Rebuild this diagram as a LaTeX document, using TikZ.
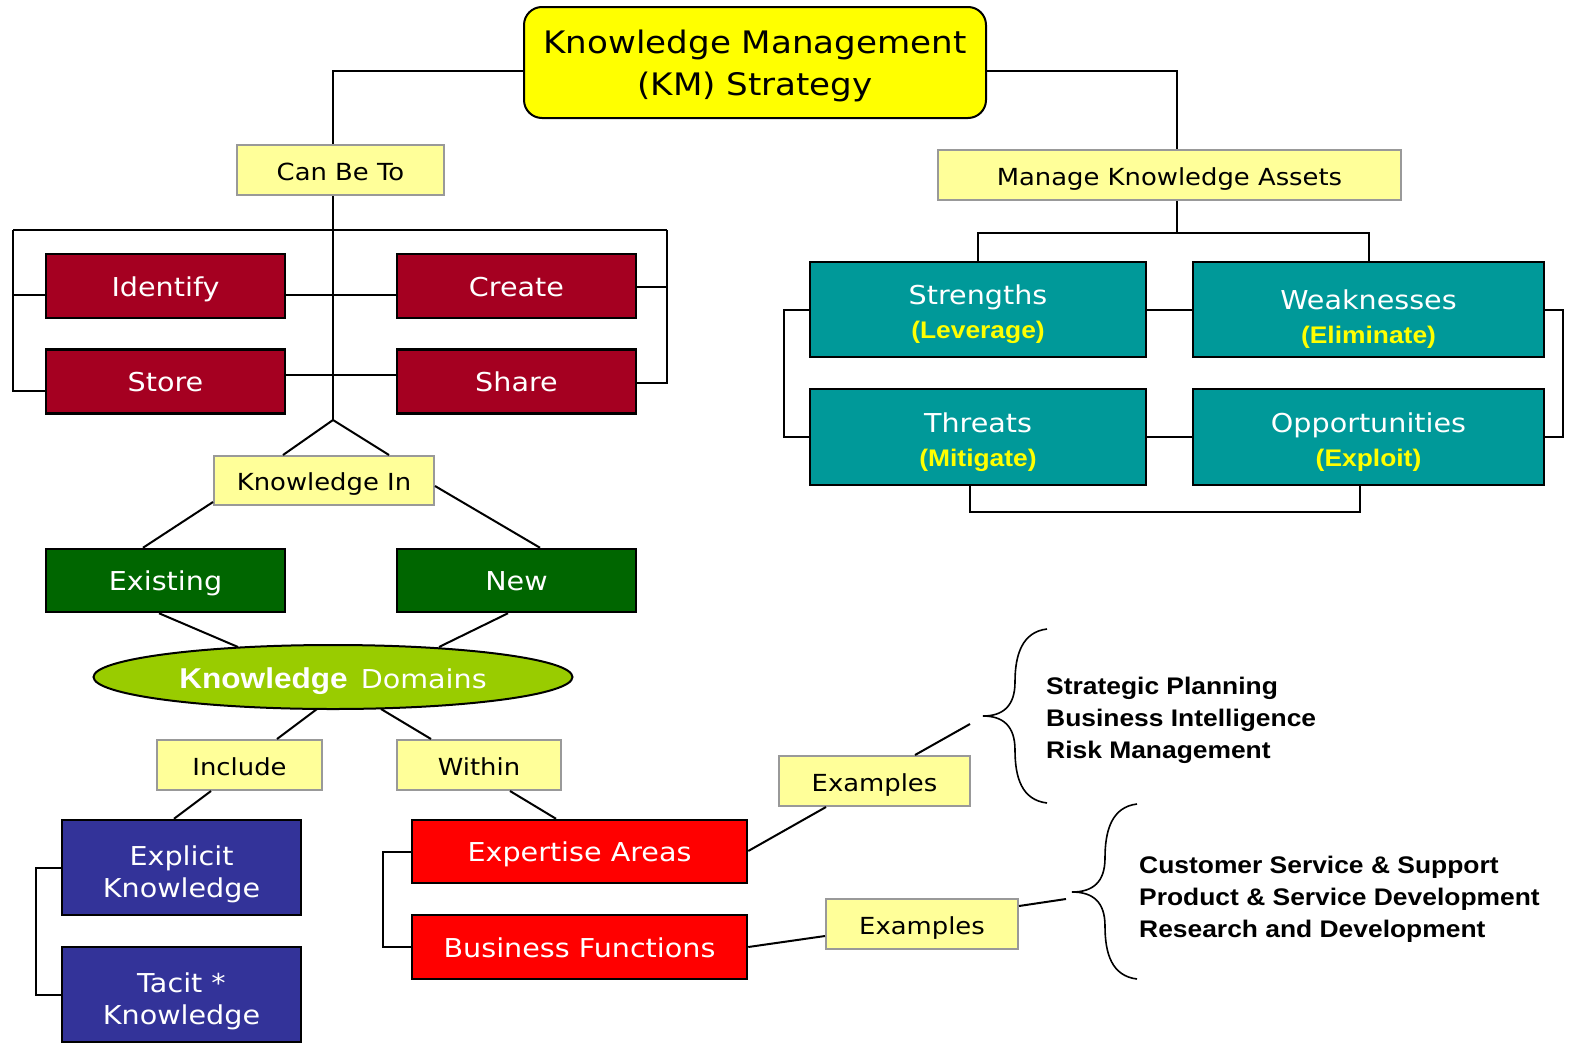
\documentclass[tikz,border=0pt]{standalone}
\usepackage{fontspec}
\setmainfont{DejaVu Sans}[FakeStretch=1.1]
\newfontfamily\arialf{Liberation Sans}[FakeStretch=1.1]
\usetikzlibrary{shapes.geometric}
\definecolor{lbl}{HTML}{FFFF99}
\definecolor{crim}{HTML}{A50021}
\definecolor{tealbox}{HTML}{009999}
\definecolor{dgreen}{HTML}{006600}
\definecolor{lime}{HTML}{99CC00}
\definecolor{navy}{HTML}{333399}
\definecolor{brightred}{HTML}{FF0000}
\definecolor{ttl}{HTML}{FFFF00}
\definecolor{lblborder}{HTML}{999999}
\newcommand{\swotsub}[1]{{\arialf\bfseries\fontsize{24}{34}\selectfont\color{ttl}#1}}
\begin{document}
\begin{tikzpicture}[x=1pt,y=-1pt,
  conn/.style={draw=black, line width=2pt},
  oneline/.style={text height=20pt, text depth=0pt},
  lblbox/.style={draw=lblborder, line width=2pt, fill=lbl, minimum height=50pt, inner sep=0pt, oneline, font=\fontsize{23.5}{28}\selectfont},
  box/.style={draw=black, line width=2.5pt, inner sep=0pt, text=white, align=center, font=\fontsize{26}{32}\selectfont},
  swot/.style={box, fill=tealbox, font=\fontsize{26}{34}\selectfont},
]
\useasboundingbox[fill=white] (0,0) rectangle (1574,1047);

% ---------- nodes ----------
\node[draw=black, line width=2pt, fill=ttl, rounded corners=18pt, minimum width=462pt, minimum height=111pt, inner sep=0pt, align=center, text height=65pt, text depth=0pt, font=\fontsize{31}{42}\selectfont] (title) at (755,62.5) {Knowledge Management\\(KM) Strategy};

\node[lblbox, minimum width=207pt] (canbe) at (340.5,170) {Can Be To};
\node[lblbox, minimum width=463pt] (manage) at (1169.5,175) {Manage Knowledge Assets};

\node[box, oneline, fill=crim, minimum width=239pt, minimum height=64pt] (identify) at (165.5,286) {Identify};
\node[box, oneline, fill=crim, minimum width=239pt, minimum height=64pt] (create) at (516.5,286) {Create};
\node[box, oneline, fill=crim, minimum width=239pt, minimum height=64pt] (store) at (165.5,381.5) {Store};
\node[box, oneline, fill=crim, minimum width=239pt, minimum height=64pt] (share) at (516.5,381.5) {Share};

\node[swot, minimum width=336pt, minimum height=95pt, text height=57pt, text depth=0pt] (strengths) at (978,309.5) {Strengths\\\swotsub{(Leverage)}};
\node[swot, minimum width=351pt, minimum height=95pt, text height=67pt, text depth=0pt] (weak) at (1368.5,309.5) {Weaknesses\\\swotsub{(Eliminate)}};
\node[swot, minimum width=336pt, minimum height=96pt, text height=58pt, text depth=0pt] (threats) at (978,437) {Threats\\\swotsub{(Mitigate)}};
\node[swot, minimum width=351pt, minimum height=96pt, text height=58pt, text depth=0pt] (opp) at (1368.5,437) {Opportunities\\\swotsub{(Exploit)}};

\node[lblbox, minimum width=220pt, minimum height=49pt] (kin) at (324,480.5) {Knowledge In};

\node[box, oneline, fill=dgreen, minimum width=239pt, minimum height=63pt] (existing) at (165.5,580.5) {Existing};
\node[box, oneline, fill=dgreen, minimum width=239pt, minimum height=63pt] (new) at (516.5,580.5) {New};

\node[ellipse, draw=black, line width=2pt, fill=lime, minimum width=479pt, minimum height=64pt, inner sep=0pt, text=white, text height=22pt, text depth=0pt] (domains) at (333,677) {{\arialf\bfseries\fontsize{28.7}{32}\selectfont Knowledge}\hspace{13pt}{\fontsize{26}{32}\selectfont Domains}};

\node[lblbox, minimum width=165pt] (include) at (239.5,765) {Include};
\node[lblbox, minimum width=164pt] (within) at (479,765) {Within};

\node[box, fill=navy, minimum width=239pt, minimum height=95pt, text height=59pt, text depth=0pt] (explicit) at (181.5,867.5) {Explicit\\Knowledge};
\node[box, fill=navy, minimum width=239pt, minimum height=95pt, text height=59pt, text depth=0pt] (tacit) at (181.5,994.5) {Tacit *\\Knowledge};

\node[box, oneline, fill=brightred, minimum width=335pt, minimum height=63pt] (expertise) at (579.5,851.5) {Expertise Areas};
\node[box, oneline, fill=brightred, minimum width=335pt, minimum height=64pt] (business) at (579.5,947) {Business Functions};

\node[lblbox, minimum width=191pt] (ex1) at (874.5,781) {Examples};
\node[lblbox, minimum width=192pt] (ex2) at (922,924) {Examples};

\node[anchor=west, align=left, inner sep=0pt, font=\arialf\bfseries\fontsize{24}{32}\selectfont] (list1) at (1046,720) {Strategic Planning\\Business Intelligence\\Risk Management};
\node[anchor=west, align=left, inner sep=0pt, font=\arialf\bfseries\fontsize{24}{32}\selectfont] (list2) at (1139,899) {Customer Service \& Support\\Product \& Service Development\\Research and Development};

% ---------- helper coordinates ----------
\coordinate (apex) at (333,420);
\coordinate (tip1) at (970,724);
\coordinate (tip2) at (1066,899);

% ---------- connectors ----------
\draw[conn] (title.west |- 0,71) -| (canbe.north -| apex);
\draw[conn] (title.east |- 0,71) -| (manage.north -| 1177,0);
\draw[conn] (canbe.south -| apex) -- (apex);
\draw[conn] (13,230) -- (667,230);
\draw[conn] (identify.west |- 0,295) -| (13,230);
\draw[conn] (store.west |- 0,391) -| (13,295);
\draw[conn] (create.east |- 0,287) -| (667,230);
\draw[conn] (share.east |- 0,383) -| (667,287);
\draw[conn] (identify.east |- 0,295) -- (create.west |- 0,295);
\draw[conn] (store.east |- 0,375) -- (share.west |- 0,375);

\draw[conn] (manage.south -| 1177,0) -- (1177,233);
\draw[conn] (strengths.north) |- (1177,233) -| (weak.north);
\draw[conn] (strengths.east |- 0,310) -- (weak.west |- 0,310);
\draw[conn] (threats.east |- 0,437) -- (opp.west |- 0,437);
\draw[conn] (strengths.west |- 0,310) -| (784,437) -- (threats.west |- 0,437);
\draw[conn] (weak.east |- 0,310) -| (1563,437) -- (opp.east |- 0,437);
\draw[conn] (threats.south -| 970,0) |- (1360,512) -- (opp.south -| 1360,0);

\draw[conn] (apex) -- (kin.north -| 283,0);
\draw[conn] (apex) -- (kin.north -| 389,0);
\draw[conn] (kin.west |- 0,502) -- (existing.north -| 143,0);
\draw[conn] (kin.east |- 0,486) -- (new.north -| 540,0);
\draw[conn] (existing.south -| 159,0) -- (238,647);
\draw[conn] (new.south -| 508,0) -- (439,647);
\draw[conn] (317,709) -- (include.north -| 277,0);
\draw[conn] (381,709) -- (within.north -| 431,0);
\draw[conn] (include.south -| 211,0) -- (explicit.north -| 174,0);
\draw[conn] (within.south -| 510,0) -- (expertise.north -| 556,0);
\draw[conn] (explicit.west |- 0,868) -| (36,995) -- (tacit.west |- 0,995);
\draw[conn] (expertise.west |- 0,852) -| (383,947) -- (business.west |- 0,947);
\draw[conn] (expertise.east |- 0,851) -- (ex1.south -| 826,0);
\draw[conn] (ex1.north -| 915,0) -- (tip1);
\draw[conn] (business.east |- 0,947) -- (ex2.west |- 0,936);
\draw[conn] (ex2.east |- 0,906) -- (tip2);

% braces
\draw[line width=1.6pt] (1047,629) .. controls (1022,632) and (1015,655) .. (1015,682)
  .. controls (1015,706) and (1003,716) .. (983,716)
  .. controls (1003,716) and (1015,726) .. (1015,750)
  .. controls (1015,778) and (1022,800) .. (1047,803);
\draw[line width=1.6pt] (1137,804) .. controls (1112,807) and (1105,830) .. (1105,858)
  .. controls (1105,882) and (1093,892) .. (1072,892)
  .. controls (1093,892) and (1105,902) .. (1105,926)
  .. controls (1105,954) and (1112,976) .. (1137,979);
\end{tikzpicture}
\end{document}
